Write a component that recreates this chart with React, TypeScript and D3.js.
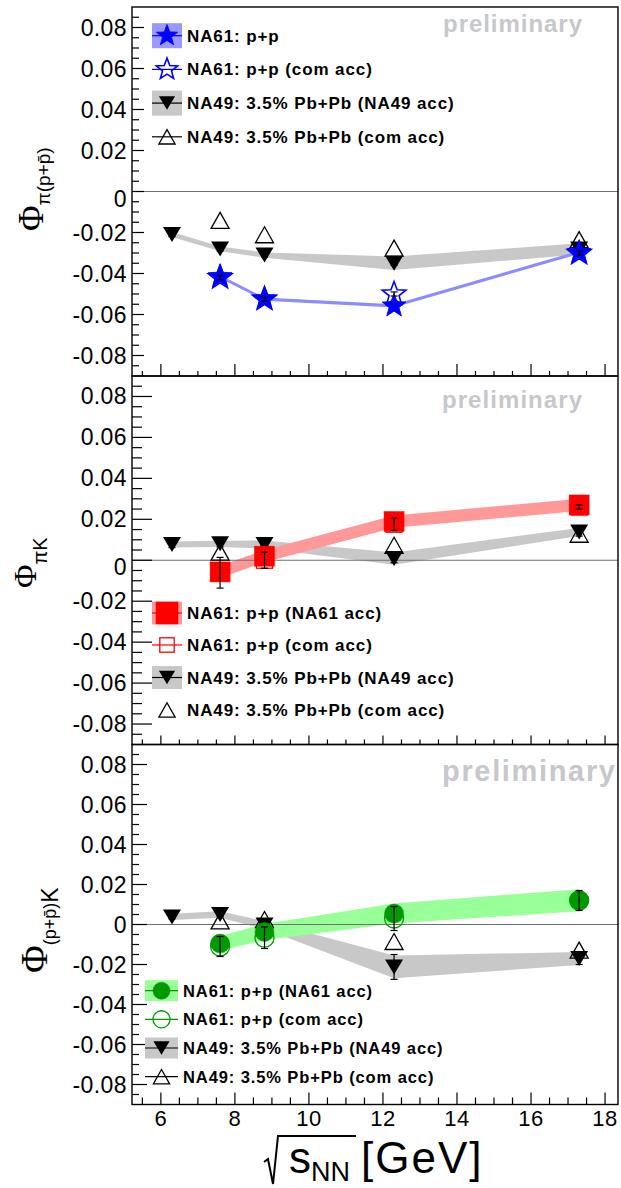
import React, { useRef, useEffect } from "react";
import { select, scaleLinear, area, range } from "d3";

// beam energies, sqrt(s_NN) in GeV
const energiesNA49 = [6.3, 7.6, 8.8, 12.3, 17.3];
const energiesNA61 = [7.6, 8.8, 12.3, 17.3];

const xTickValues = [6, 8, 10, 12, 14, 16, 18];
const yTickValues = [-0.08, -0.06, -0.04, -0.02, 0, 0.02, 0.04, 0.06, 0.08];
const yTickLabels = ["-0.08", "-0.06", "-0.04", "-0.02", "0", "0.02", "0.04", "0.06", "0.08"];

// Phi_pi(p+pbar)
const piPna49 = [-0.021, -0.028, -0.031, -0.035, -0.028];
const piPna49Sys = [0.0012, 0.0012, 0.0013, 0.0033, 0.0027];
const piPna49Stat = [0.001, 0.001, 0.001, 0.001, 0.001];
const piPna49Com = [-0.0141, -0.0211, -0.0276, -0.0235];
const piPna61 = [-0.0415, -0.0525, -0.0558, -0.0297];
const piPna61Sys = [0.0008, 0.0008, 0.0008, 0.0008];
const piPna61Com = [-0.042, -0.0525, -0.05, -0.0302];
const piPna61ComStat = [0.001, 0.001, 0.001, 0.001];

// Phi_piK
const piKna49 = [0.0077, 0.008, 0.0077, 0.0008, 0.0138];
const piKna49Sys = [0.0015, 0.0015, 0.002, 0.003, 0.002];
const piKna49Stat = [0.0015, 0.0015, 0.0015, 0.002, 0.002];
const piKna49Com = [0.004, 0.006, 0.0073, 0.0127];
const piKna61 = [-0.0057, 0.002, 0.0189, 0.027];
const piKna61Sys = [0.003, 0.003, 0.003, 0.003];
const piKna61Com = [-0.0061, 0.0, 0.0176, 0.026];
const piKna61ComStat = [0.0075, 0.0039, 0.003, 0.001];

// Phi_(p+pbar)K
const pKna49 = [0.0038, 0.005, -0.0003, -0.0212, -0.017];
const pKna49Sys = [0.0016, 0.0016, 0.002, 0.0057, 0.0032];
const pKna49Stat = [0.001, 0.001, 0.0015, 0.0062, 0.003];
const pKna49Com = [0.0018, 0.0025, -0.0085, -0.0128];
const pKna61 = [-0.0095, -0.0037, 0.0055, 0.0121];
const pKna61Sys = [0.0038, 0.004, 0.005, 0.0055];
const pKna61Com = [-0.011, -0.0066, 0.003, 0.012];
const pKna61ComStat = [0.005, 0.0054, 0.006, 0.005];

const legendTextTop = [
  "NA61: p+p",
  "NA61: p+p (com acc)",
  "NA49: 3.5% Pb+Pb (NA49 acc)",
  "NA49: 3.5% Pb+Pb (com acc)",
];
const legendTextOther = [
  "NA61: p+p (NA61 acc)",
  "NA61: p+p (com acc)",
  "NA49: 3.5% Pb+Pb (NA49 acc)",
  "NA49: 3.5% Pb+Pb (com acc)",
];

const SANS = "'Liberation Sans', Arial, sans-serif";
const SERIF = "'Liberation Serif', 'Times New Roman', serif";
const GRAY_BAND = "#c8c8c8";

type Sel = any;

const starPath = (cx: number, cy: number, r: number) => {
  const pts = range(10).map((i) => {
    const rr = i % 2 === 0 ? r : r * 0.42;
    const a = -Math.PI / 2 + (i * Math.PI) / 5;
    return [cx + rr * Math.cos(a), cy + rr * Math.sin(a)];
  });
  return "M" + pts.map((p) => p.join(",")).join("L") + "Z";
};

function drawMarker(g: Sel, kind: string, cx: number, cy: number, color: string, k = 1) {
  if (kind === "star" || kind === "starOpen") {
    g.append("path")
      .attr("d", starPath(cx, cy, 12.5 * k))
      .attr("fill", kind === "star" ? color : "none")
      .attr("stroke", color)
      .attr("stroke-width", kind === "star" ? 0.8 : 1.6);
  } else if (kind === "triDown") {
    const w = 18 * k, h = 15 * k;
    g.append("path")
      .attr("d", `M${cx - w / 2},${cy - h / 2}L${cx + w / 2},${cy - h / 2}L${cx},${cy + h / 2}Z`)
      .attr("fill", "#000");
  } else if (kind === "triUpOpen") {
    const w = 18 * k, h = 16 * k;
    g.append("path")
      .attr("d", `M${cx - w / 2},${cy + h / 2}L${cx + w / 2},${cy + h / 2}L${cx},${cy - h / 2}Z`)
      .attr("fill", "none")
      .attr("stroke", "#000")
      .attr("stroke-width", 1.3);
  } else if (kind === "square" || kind === "squareOpen") {
    const s = (kind === "square" ? 20 : 16) * k;
    g.append("rect")
      .attr("x", cx - s / 2)
      .attr("y", cy - s / 2)
      .attr("width", s)
      .attr("height", s)
      .attr("fill", kind === "square" ? color : "none")
      .attr("stroke", color)
      .attr("stroke-width", kind === "square" ? 0.5 : 1.3);
  } else if (kind === "circle" || kind === "circleOpen") {
    g.append("circle")
      .attr("cx", cx)
      .attr("cy", cy)
      .attr("r", 9.5 * k)
      .attr("fill", kind === "circle" ? color : "none")
      .attr("stroke", color)
      .attr("stroke-width", kind === "circle" ? 0.5 : 1.3);
  }
}

function errorBar(g: Sel, cx: number, y1: number, y2: number) {
  g.append("line").attr("x1", cx).attr("x2", cx).attr("y1", y1).attr("y2", y2)
    .attr("stroke", "#000").attr("stroke-width", 1.2);
  [y1, y2].forEach((yy) =>
    g.append("line").attr("x1", cx - 3.5).attr("x2", cx + 3.5).attr("y1", yy).attr("y2", yy)
      .attr("stroke", "#000").attr("stroke-width", 1.2)
  );
}

const App: React.FC = () => {
  const svgRef = useRef<SVGSVGElement>(null);

  useEffect(() => {
    const svg = select(svgRef.current);
    svg.selectAll("*").remove();

    const left = 132, right = 618;
    const x = scaleLinear().domain([5.22, 18.35]).range([left, right]);

    const panels = [
      {
        top: 7, bottom: 376, yMaj: 12, yMin: 7, xMaj: 12, xMin: 5, zeroShift: 7,
        na49: piPna49, na49Sys: piPna49Sys, na49Stat: piPna49Stat, na49Com: piPna49Com,
        na61: piPna61, na61Sys: piPna61Sys, na61Com: piPna61Com, na61ComStat: piPna61ComStat,
        color: "#0000ff", band: "#8c8cff", full: "star", open: "starOpen",
        legendText: legendTextTop, legendX: 152, legendW: 30, legendH: 25, legendTextX: 187,
        legendY: [35.7, 69.4, 103.1, 136.8], legendFont: 17, boxFill: "#9999ff",
        prelimX: 443, prelimY: 32, prelimSize: 24, prelimLen: 139,
        titleX: 43, titleY: 231, phiSize: 35, sub: ["\u03c0(p+p\u0304)"], subSize: [19], subDy: [7],
      },
      {
        top: 376, bottom: 744.5, yMaj: 20, yMin: 10, xMaj: 9, xMin: 5, zeroShift: 7,
        na49: piKna49, na49Sys: piKna49Sys, na49Stat: piKna49Stat, na49Com: piKna49Com,
        na61: piKna61, na61Sys: piKna61Sys, na61Com: piKna61Com, na61ComStat: piKna61ComStat,
        color: "#ff0000", band: "#ff9999", full: "square", open: "squareOpen",
        legendText: legendTextOther, legendX: 152, legendW: 30, legendH: 23, legendTextX: 187,
        legendY: [613, 645, 677.5, 710], legendFont: 17, boxFill: "#ff9999",
        prelimX: 442, prelimY: 408, prelimSize: 24, prelimLen: 140,
        titleX: 36, titleY: 588, phiSize: 32, sub: ["\u03c0K"], subSize: [20], subDy: [11],
      },
      {
        top: 744.5, bottom: 1104.5, yMaj: 15, yMin: 7, xMaj: 12, xMin: 7, zeroShift: 0,
        na49: pKna49, na49Sys: pKna49Sys, na49Stat: pKna49Stat, na49Com: pKna49Com,
        na61: pKna61, na61Sys: pKna61Sys, na61Com: pKna61Com, na61ComStat: pKna61ComStat,
        color: "#009a00", band: "#99ff99", full: "circle", open: "circleOpen",
        legendText: legendTextOther, legendX: 145, legendW: 33, legendH: 21, legendTextX: 183,
        legendY: [990.7, 1019.3, 1048, 1076.7], legendFont: 16.5, boxFill: "#99ff99",
        prelimX: 442, prelimY: 781, prelimSize: 29, prelimLen: 173,
        titleX: 47, titleY: 973, phiSize: 38, sub: ["(p+p\u0304)", "K"], subSize: [18, 23], subDy: [9, 2],
      },
    ];

    panels.forEach((p) => {
      const y = scaleLinear().domain([-0.09, 0.09]).range([p.bottom, p.top]);
      const g = svg.append("g");

      // bands
      const bandNA49 = energiesNA49.map((e, i) => ({ x: e, lo: p.na49[i] - p.na49Sys[i], hi: p.na49[i] + p.na49Sys[i] }));
      const bandNA61 = energiesNA61.map((e, i) => ({ x: e, lo: p.na61[i] - p.na61Sys[i], hi: p.na61[i] + p.na61Sys[i] }));
      const bandArea = area<any>().x((d) => x(d.x)).y0((d) => y(d.lo)).y1((d) => y(d.hi));
      g.append("path").attr("d", bandArea(bandNA49)!).attr("fill", GRAY_BAND);
      g.append("path").attr("d", bandArea(bandNA61)!).attr("fill", p.band);

      // zero line
      g.append("line").attr("x1", left).attr("x2", right).attr("y1", y(0)).attr("y2", y(0))
        .attr("stroke", "#707070").attr("stroke-width", 1);

      // NA49 stat errors
      energiesNA49.forEach((e, i) => errorBar(g, x(e), y(p.na49[i] + p.na49Stat[i]), y(p.na49[i] - p.na49Stat[i])));
      // NA49 common acceptance
      energiesNA61.forEach((e, i) => drawMarker(g, "triUpOpen", x(e), y(p.na49Com[i]), "#000"));
      // NA49 own acceptance
      energiesNA49.forEach((e, i) => drawMarker(g, "triDown", x(e), y(p.na49[i]), "#000"));
      // NA61 common acceptance
      energiesNA61.forEach((e, i) => drawMarker(g, p.open, x(e), y(p.na61Com[i]), p.color));
      // NA61 own acceptance
      energiesNA61.forEach((e, i) => drawMarker(g, p.full, x(e), y(p.na61[i]), p.color));
      // NA61 com acc stat errors
      energiesNA61.forEach((e, i) =>
        errorBar(g, x(e), y(p.na61Com[i] + p.na61ComStat[i]), y(p.na61Com[i] - p.na61ComStat[i]))
      );

      // frame
      g.append("rect").attr("x", left).attr("y", p.top).attr("width", right - left).attr("height", p.bottom - p.top)
        .attr("fill", "none").attr("stroke", "#000").attr("stroke-width", 1.4);

      // y ticks
      const yMinor = range(-0.085, 0.0851, 0.005);
      yMinor.forEach((v) => {
        const isMajor = Math.abs(Math.round(v / 0.02) * 0.02 - v) < 1e-6;
        g.append("line").attr("x1", left).attr("x2", left + (isMajor ? p.yMaj : p.yMin))
          .attr("y1", y(v)).attr("y2", y(v)).attr("stroke", "#000").attr("stroke-width", 1.2);
      });
      yTickValues.forEach((v, i) => {
        g.append("text")
          .attr("x", 127)
          .attr("y", y(v) + 8 + (v === 0 ? p.zeroShift : 0))
          .attr("text-anchor", "end")
          .attr("font-family", SANS)
          .attr("font-size", 23)
          .attr("letter-spacing", 0.4)
          .attr("fill", "#000")
          .text(yTickLabels[i]);
      });

      // x ticks
      range(5.5, 18.01, 0.5).forEach((v) => {
        const isMajor = Math.abs(v % 2) < 1e-6;
        g.append("line").attr("x1", x(v)).attr("x2", x(v))
          .attr("y1", p.bottom).attr("y2", p.bottom - (isMajor ? p.xMaj : p.xMin))
          .attr("stroke", "#000").attr("stroke-width", 1.2);
      });

      // preliminary
      g.append("text")
        .attr("x", p.prelimX).attr("y", p.prelimY)
        .attr("font-family", SANS).attr("font-weight", "bold").attr("font-size", p.prelimSize)
        .attr("textLength", p.prelimLen).attr("lengthAdjust", "spacing")
        .attr("fill", "#c6c8cc").text("preliminary");

      // legend
      const legendKinds = [p.full, p.open, "triDown", "triUpOpen"];
      const legendColors = [p.color, p.color, "#000", "#000"];
      const legendBoxes = [p.boxFill, null, GRAY_BAND, null];
      const legendLines = [true, true, true, p.full !== "square"];
      p.legendY.forEach((ly, i) => {
        const cx = p.legendX + p.legendW / 2;
        if (legendBoxes[i]) {
          g.append("rect").attr("x", p.legendX).attr("y", ly - p.legendH / 2)
            .attr("width", p.legendW).attr("height", p.legendH).attr("fill", legendBoxes[i]!);
        }
        if (legendLines[i]) {
          g.append("line").attr("x1", p.legendX).attr("x2", p.legendX + p.legendW)
            .attr("y1", ly).attr("y2", ly).attr("stroke", legendColors[i]).attr("stroke-width", 1.2);
        }
        const k = legendKinds[i] === "square" ? 1.1 : 0.9;
        drawMarker(g, legendKinds[i], cx, ly, legendColors[i], k);
        g.append("text")
          .attr("x", p.legendTextX).attr("y", ly + 6)
          .attr("font-family", SANS).attr("font-weight", "bold").attr("font-size", p.legendFont)
          .attr("letter-spacing", 0.9).attr("fill", "#000")
          .text(p.legendText[i]);
      });

      // y title
      const t = g.append("text")
        .attr("transform", `translate(${p.titleX},${p.titleY}) rotate(-90)`)
        .attr("fill", "#000");
      t.append("tspan").attr("font-family", SERIF).attr("font-size", p.phiSize).text("\u03a6");
      p.sub.forEach((s, i) => {
        t.append("tspan").attr("font-family", SANS).attr("font-size", p.subSize[i])
          .attr("dy", p.subDy[i]).text(s);
      });
    });

    // x tick labels (bottom panel only)
    const last = panels[panels.length - 1];
    xTickValues.forEach((v) => {
      svg.append("text")
        .attr("x", x(v)).attr("y", last.bottom + 21)
        .attr("text-anchor", "middle")
        .attr("font-family", SANS).attr("font-size", 22).attr("letter-spacing", 0.5)
        .attr("fill", "#000").text(v);
    });

    // x title: sqrt(s_NN) [GeV]
    svg.append("path")
      .attr("d", "M264,1162L268,1159L273,1184L278,1136L356,1136")
      .attr("fill", "none").attr("stroke", "#000").attr("stroke-width", 2);
    const xt = svg.append("text").attr("x", 289).attr("y", 1173).attr("fill", "#000").attr("font-family", SANS);
    xt.append("tspan").attr("font-size", 44).text("s");
    xt.append("tspan").attr("font-size", 27).attr("dy", 8).text("NN");
    xt.append("tspan").attr("font-size", 44).attr("dy", -8).attr("dx", 11).attr("letter-spacing", 2).text("[GeV]");
  }, []);

  return (
    <svg
      ref={svgRef}
      width={621}
      height={1188}
      viewBox="0 0 621 1188"
      style={{ position: "absolute", left: 0, top: 0, background: "#fff" }}
    />
  );
};

export default App;
